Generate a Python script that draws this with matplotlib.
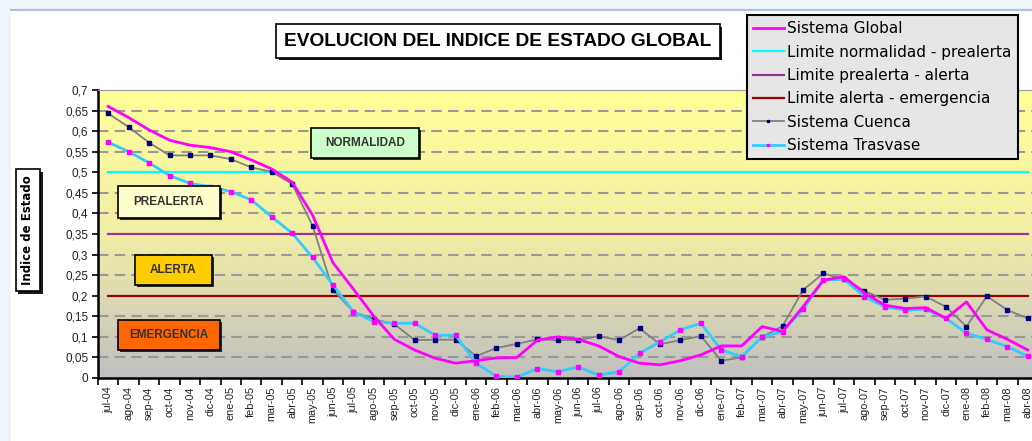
import numpy as np
import matplotlib
matplotlib.use("Agg")
import matplotlib.pyplot as plt
from matplotlib.colors import LinearSegmentedColormap
from matplotlib.patches import Rectangle
import matplotlib.patheffects as pe

plt.rcParams['font.family'] = ['Liberation Sans', 'DejaVu Sans']

# Data
months = ["jul-04", "ago-04", "sep-04", "oct-04", "nov-04", "dic-04",
          "ene-05", "feb-05", "mar-05", "abr-05", "may-05", "jun-05",
          "jul-05", "ago-05", "sep-05", "oct-05", "nov-05", "dic-05",
          "ene-06", "feb-06", "mar-06", "abr-06", "may-06", "jun-06",
          "jul-06", "ago-06", "sep-06", "oct-06", "nov-06", "dic-06",
          "ene-07", "feb-07", "mar-07", "abr-07", "may-07", "jun-07",
          "jul-07", "ago-07", "sep-07", "oct-07", "nov-07", "dic-07",
          "ene-08", "feb-08", "mar-08", "abr-08"]

sistema_global = [0.660, 0.633, 0.603, 0.578, 0.566, 0.560, 0.550, 0.530,
                  0.508, 0.476, 0.396, 0.280, 0.216, 0.150, 0.094, 0.068,
                  0.048, 0.036, 0.042, 0.049, 0.050, 0.092, 0.100, 0.094,
                  0.078, 0.052, 0.036, 0.032, 0.042, 0.056, 0.078, 0.078,
                  0.125, 0.113, 0.173, 0.238, 0.246, 0.207, 0.177, 0.169,
                  0.171, 0.145, 0.185, 0.117, 0.094, 0.068]

sistema_cuenca = [0.643, 0.610, 0.572, 0.541, 0.541, 0.541, 0.532, 0.512,
                  0.501, 0.472, 0.370, 0.214, 0.161, 0.143, 0.131, 0.092,
                  0.093, 0.093, 0.053, 0.073, 0.083, 0.094, 0.092, 0.092,
                  0.102, 0.092, 0.121, 0.082, 0.092, 0.102, 0.042, 0.050,
                  0.100, 0.126, 0.214, 0.254, 0.240, 0.212, 0.190, 0.193,
                  0.198, 0.173, 0.125, 0.199, 0.165, 0.145]

sistema_trasvase = [0.573, 0.550, 0.523, 0.492, 0.473, 0.465, 0.453, 0.433,
                    0.392, 0.352, 0.293, 0.226, 0.161, 0.137, 0.133, 0.133,
                    0.104, 0.104, 0.036, 0.004, 0.002, 0.023, 0.015, 0.027,
                    0.007, 0.015, 0.060, 0.088, 0.117, 0.133, 0.068, 0.052,
                    0.100, 0.113, 0.167, 0.238, 0.240, 0.198, 0.173, 0.165,
                    0.167, 0.145, 0.109, 0.094, 0.076, 0.053]

limite_normalidad = 0.5
limite_prealerta = 0.35
limite_alerta = 0.2

y_ticks = [0, 0.05, 0.1, 0.15, 0.2, 0.25, 0.3, 0.35, 0.4, 0.45, 0.5, 0.55,
           0.6, 0.65, 0.7]
y_tick_labels = ["0", "0,05", "0,1", "0,15", "0,2", "0,25", "0,3", "0,35",
                 "0,4", "0,45", "0,5", "0,55", "0,6", "0,65", "0,7"]

zones = [("NORMALIDAD", 9.94, 0.535, 5.26, 0.073, "#CCFFCC"),
         ("PREALERTA", 0.49, 0.389, 4.97, 0.078, "#FFFFCC"),
         ("ALERTA", 1.32, 0.226, 3.75, 0.073, "#FFCC00"),
         ("EMERGENCIA", 0.49, 0.068, 4.97, 0.073, "#FF6600")]

W, H = 1032, 441
fig = plt.figure(figsize=(W / 100, H / 100), dpi=100)
fig.patch.set_facecolor("#EEF4F9")
fig.patches.append(Rectangle((11 / W, 0), 1, 1 - 10 / H, transform=fig.transFigure,
                             facecolor="white", edgecolor="none", zorder=-10))
fig.add_artist(plt.Line2D([11 / W, 1], [1 - 10 / H, 1 - 10 / H], color="#A8C4E0", lw=1.5))

x = np.arange(len(months))
xmin, xmax = -0.5, 45.3
ax = fig.add_axes([98 / W, 63 / H, 940 / W, 288 / H])
ax.set_xlim(xmin, xmax)
ax.set_ylim(0, 0.7)

# gradient plot background
cmap = LinearSegmentedColormap.from_list("bg", ["#C0C0C0", "#F2EEA6", "#FFFF99"])
grad = np.linspace(0, 1, 256).reshape(-1, 1)
ax.imshow(grad, extent=[xmin, xmax, 0, 0.7], origin="lower", aspect="auto",
          cmap=cmap, zorder=0)

for v in y_ticks[1:]:
    if v in (limite_normalidad, limite_prealerta, limite_alerta):
        continue
    ax.axhline(v, color="#999999", lw=1.5, ls=(0, (5, 3)), zorder=1)

ax.plot(x, [limite_normalidad] * len(x), color="#00FFFF", lw=1.6, zorder=2,
        label="Limite normalidad - prealerta")
ax.plot(x, [limite_prealerta] * len(x), color="#993399", lw=1.6, zorder=2,
        label="Limite prealerta - alerta")
ax.plot(x, [limite_alerta] * len(x), color="#990000", lw=1.6, zorder=2,
        label="Limite alerta - emergencia")
ax.plot(x, sistema_cuenca, color="#808080", lw=1.3, marker="s", ms=3,
        mfc="#000080", mec="#000080", zorder=3, label="Sistema Cuenca")
ax.plot(x, sistema_trasvase, color="#33CCFF", lw=2, marker="s", ms=2.5,
        mfc="#FF00FF", mec="#FF00FF", zorder=4, label="Sistema Trasvase")
ax.plot(x, sistema_global, color="#FF00FF", lw=2, zorder=5, label="Sistema Global")

for name, x0, y0, w, h, col in zones:
    r = Rectangle((x0, y0), w, h, facecolor=col, edgecolor="black", lw=1.2, zorder=6)
    r.set_path_effects([pe.SimplePatchShadow(offset=(1.5, -1.5), shadow_rgbFace="black", alpha=0.8),
                        pe.Normal()])
    ax.add_patch(r)
    ax.text(x0 + w / 2, y0 + h / 2, name, ha="center", va="center", fontsize=8.5,
            fontweight="bold", color="#333333", zorder=7)

ax.set_yticks(y_ticks)
ax.set_yticklabels(y_tick_labels, fontsize=8.5, color="#222222")
ax.set_xticks(x)
ax.set_xticklabels(months, rotation=90, fontsize=7.8, color="#222222")
ax.set_xticks(np.arange(-0.5, 46, 1), minor=True)
ax.tick_params(axis="x", which="major", length=0, pad=6)
ax.tick_params(axis="x", which="minor", length=5, width=1.2)
ax.tick_params(axis="y", length=4, width=1.2, pad=3)
ax.spines["left"].set_linewidth(1.8)
ax.spines["bottom"].set_linewidth(1.8)
ax.spines["top"].set_color("#999999")
ax.spines["top"].set_linewidth(0.8)
ax.spines["right"].set_visible(False)

# title box
t = fig.text(498 / W, 1 - 41 / H, "EVOLUCION DEL INDICE DE ESTADO GLOBAL",
             ha="center", va="center", fontsize=13.8, fontweight="bold",
             bbox=dict(boxstyle="square,pad=0.42", fc="white", ec="black", lw=1.2))
t.get_bbox_patch().set_path_effects([pe.SimplePatchShadow(offset=(2, -2), shadow_rgbFace="black", alpha=0.9),
                                     pe.Normal()])

# y label box
yl = fig.text(28 / W, 1 - 230 / H, "Indice de Estado", rotation=90, ha="center",
              va="center", fontsize=8.5, fontweight="bold", family=["DejaVu Sans"],
              bbox=dict(boxstyle="square,pad=0.5", fc="white", ec="black", lw=1.2))
yl.get_bbox_patch().set_path_effects([pe.SimplePatchShadow(offset=(2, -2), shadow_rgbFace="black", alpha=0.9),
                                      pe.Normal()])

# legend
handles, labels = ax.get_legend_handles_labels()
order = ["Sistema Global", "Limite normalidad - prealerta", "Limite prealerta - alerta",
         "Limite alerta - emergencia", "Sistema Cuenca", "Sistema Trasvase"]
hmap = dict(zip(labels, handles))
leg = fig.legend([hmap[k] for k in order], order, loc="upper left",
                 bbox_to_anchor=(747 / W, 1 - 15 / H), borderaxespad=0,
                 prop={"family": "DejaVu Sans", "size": 11},
                 frameon=True, fancybox=False, handlelength=2.0,
                 labelspacing=0.55, borderpad=0.4, handletextpad=0.25, markerscale=0.7)
leg.get_frame().set_facecolor("#E6E6E6")
leg.get_frame().set_edgecolor("black")
leg.get_frame().set_linewidth(1.5)
leg.get_frame().set_alpha(1)

fig.savefig("out.png", dpi=100)
